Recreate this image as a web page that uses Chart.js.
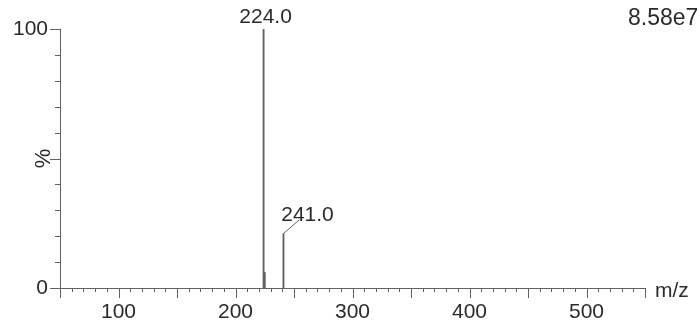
<!DOCTYPE html>
<html>
<head>
<meta charset="utf-8">
<script src="https://cdn.jsdelivr.net/npm/chart.js@4.4.1/dist/chart.umd.min.js"></script>
<style>
html,body{margin:0;padding:0;background:#fff;}
#wrap{width:697px;height:327px;position:relative;}
</style>
</head>
<body>
<div id="wrap"><canvas id="c" width="697" height="327"></canvas></div>
<script>
// ---- data ----
const mzValues = [224.0, 225.0, 241.0];
const intensityValues = [100, 6, 21];
const peakLabelMz = [224.0, 241.0];
const peakLabelIntensity = [100, 21];
const peakLabelText = ["224.0", "241.0"];
const xTickLabels = [100, 200, 300, 400, 500];
const yTickLabels = [0, 100];
const xRange = [50, 550];
const yRange = [0, 100];
const maxIntensityText = "8.58e7";
const xAxisTitle = "m/z";
const yAxisTitle = "%";

const FONT = "'Liberation Sans', Arial, sans-serif";
const INK = "#2b2b2b";
const LINE = "#606060";

const decor = {
  id: 'decor',
  afterDraw(chart) {
    const ctx = chart.ctx;
    const xs = chart.scales.x, ys = chart.scales.y;
    const y0 = ys.getPixelForValue(0);
    const x0 = xs.getPixelForValue(xRange[0]);
    ctx.save();
    ctx.strokeStyle = LINE;
    ctx.lineWidth = 1;
    // x ticks
    for (let v = xRange[0]; v <= xRange[1]; v += 10) {
      const px = Math.round(xs.getPixelForValue(v)) + 0.5;
      const len = (v % 50 === 0) ? 10 : 4;
      ctx.beginPath(); ctx.moveTo(px, y0); ctx.lineTo(px, y0 + len); ctx.stroke();
    }
    // y ticks
    for (let v = yRange[0]; v <= yRange[1]; v += 10) {
      const py = Math.round(ys.getPixelForValue(v)) + 0.5;
      const len = (v % 50 === 0) ? 10 : 5;
      ctx.beginPath(); ctx.moveTo(x0, py); ctx.lineTo(x0 - len, py); ctx.stroke();
    }
    // peak labels
    ctx.fillStyle = INK;
    ctx.font = "21px " + FONT;
    ctx.textBaseline = 'alphabetic';
    ctx.textAlign = 'center';
    {
      const px = xs.getPixelForValue(peakLabelMz[0]);
      const py = ys.getPixelForValue(peakLabelIntensity[0]);
      ctx.fillText(peakLabelText[0], px + 2, py - 6);
    }
    {
      const px = Math.round(xs.getPixelForValue(peakLabelMz[1])) + 0.5;
      const py = ys.getPixelForValue(peakLabelIntensity[1]);
      ctx.beginPath(); ctx.moveTo(px, py); ctx.lineTo(px + 16, py - 14); ctx.stroke();
      ctx.fillText(peakLabelText[1], px + 24, py - 13);
    }
    // max intensity
    ctx.textAlign = 'left';
    ctx.font = "23px " + FONT;
    ctx.fillText(maxIntensityText, 628, 25);
    // x title
    ctx.font = "21px " + FONT;
    ctx.fillText(xAxisTitle, 655, 297);
    // y title
    ctx.save();
    ctx.font = "22px " + FONT;
    ctx.translate(50, ys.getPixelForValue(50));
    ctx.rotate(-Math.PI / 2);
    ctx.textAlign = 'center';
    ctx.fillText(yAxisTitle, 0, 0);
    ctx.restore();
    ctx.restore();
  }
};

new Chart(document.getElementById('c'), {
  type: 'bar',
  data: {
    datasets: [{
      data: mzValues.map((m, i) => ({x: m, y: intensityValues[i]})),
      backgroundColor: LINE,
      borderWidth: 0,
      barThickness: 1.2,
      grouped: false
    }]
  },
  options: {
    responsive: false,
    animation: false,
    devicePixelRatio: 1,
    layout: {padding: {left: 0, right: 52, top: 29, bottom: 0}},
    plugins: {legend: {display: false}, tooltip: {enabled: false}},
    scales: {
      x: {
        type: 'linear',
        min: xRange[0], max: xRange[1],
        offset: false,
        grid: {display: false, drawTicks: false},
        border: {display: true, color: LINE, width: 1},
        afterBuildTicks: (s) => { s.ticks = xTickLabels.map(v => ({value: v})); },
        ticks: {color: INK, font: {family: FONT, size: 21}, padding: 12, maxRotation: 0, autoSkip: false},
        afterFit: (s) => { s.height = 39; }
      },
      y: {
        min: yRange[0], max: yRange[1],
        grid: {display: false, drawTicks: false},
        border: {display: true, color: LINE, width: 1},
        afterBuildTicks: (s) => { s.ticks = yTickLabels.map(v => ({value: v})); },
        ticks: {color: INK, font: {family: FONT, size: 21}, padding: 12},
        afterFit: (s) => { s.width = 60; }
      }
    }
  },
  plugins: [decor]
});
</script>
</body>
</html>
